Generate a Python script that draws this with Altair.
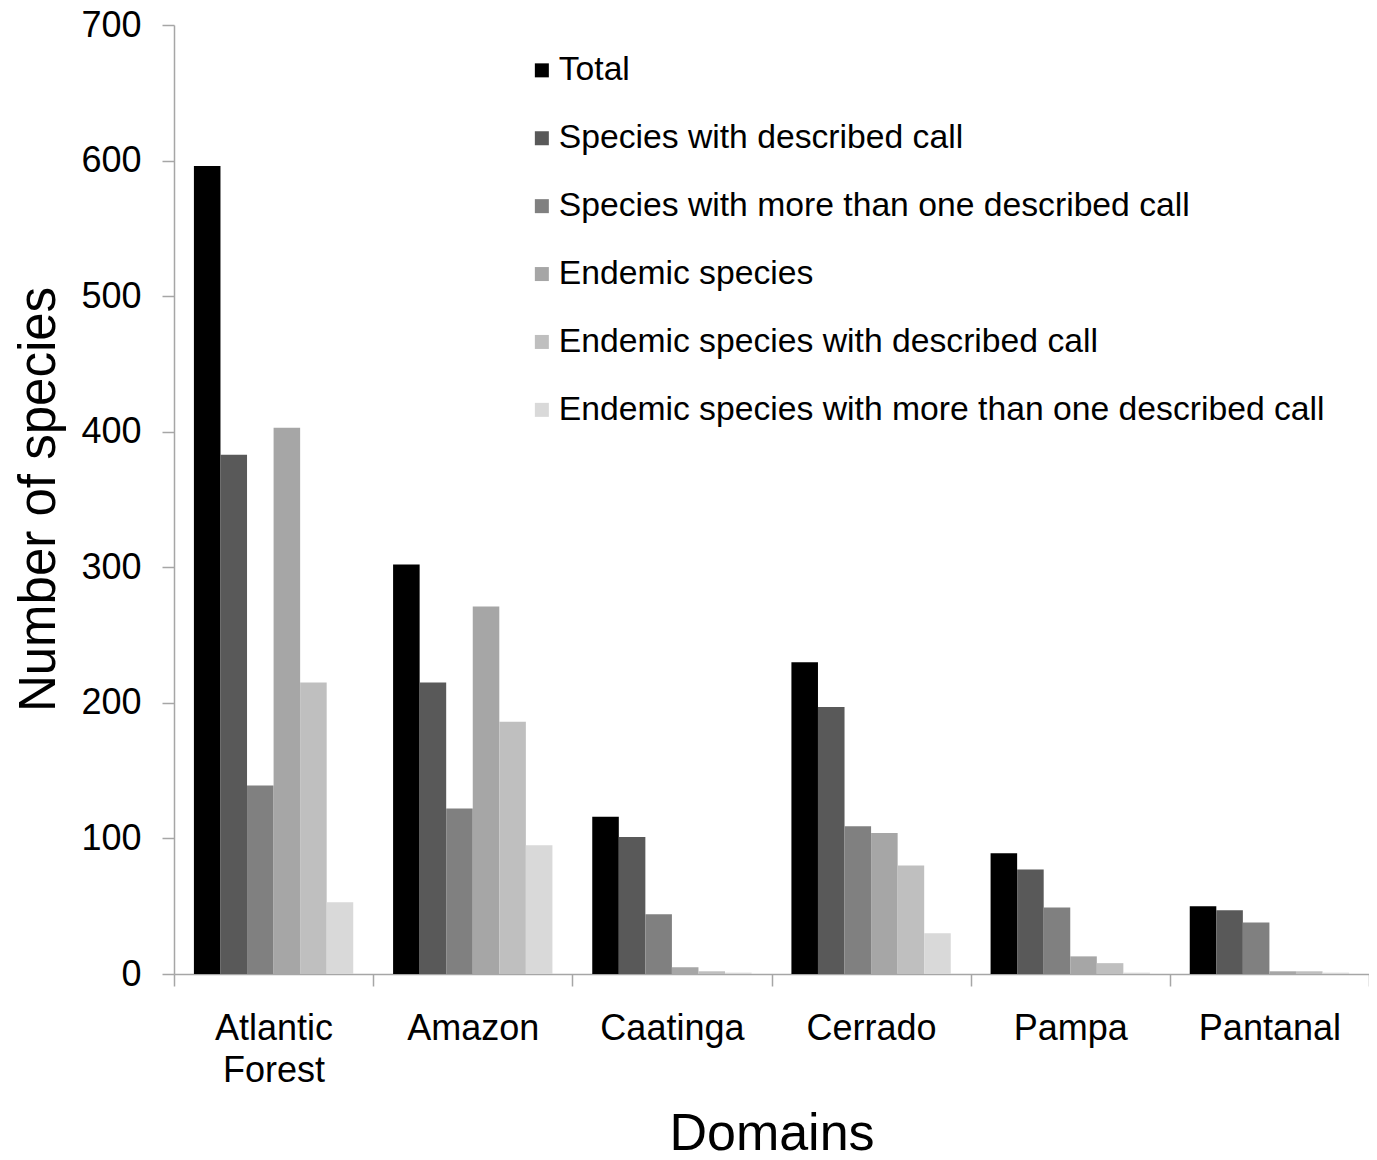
import altair as alt
import pandas as pd

domains = ["Atlantic Forest", "Amazon", "Caatinga", "Cerrado", "Pampa", "Pantanal"]
series = [
    "Total",
    "Species with described call",
    "Species with more than one described call",
    "Endemic species",
    "Endemic species with described call",
    "Endemic species with more than one described call",
]
total = [596, 302, 116, 230, 89, 50]
described = [383, 215, 101, 197, 77, 47]
more_than_one = [139, 122, 44, 109, 49, 38]
endemic = [403, 271, 5, 104, 13, 2]
endemic_described = [215, 186, 2, 80, 8, 2]
endemic_more = [53, 95, 1, 30, 1, 1]
colors = ["#000000", "#595959", "#808080", "#a6a6a6", "#bfbfbf", "#d9d9d9"]

values = [total, described, more_than_one, endemic, endemic_described, endemic_more]
rows = []
for s, vals in zip(series, values):
    for d, v in zip(domains, vals):
        rows.append({"domain": d, "series": s, "value": v})
df = pd.DataFrame(rows)

FONT = "Liberation Sans"

chart = (
    alt.Chart(df)
    .mark_bar()
    .encode(
        x=alt.X(
            "domain:N",
            sort=domains,
            scale=alt.Scale(paddingInner=0, paddingOuter=0),
            axis=alt.Axis(
                title="Domains",
                labelAngle=0,
                labelFont=FONT,
                labelFontSize=36,
                labelColor="#000000",
                labelPadding=25.5,
                labelLineHeight=42,
                labelExpr="datum.label == 'Atlantic Forest' ? ['Atlantic', 'Forest'] : datum.label",
                tickBand="extent",
                tickSize=12,
                tickColor="#a6a6a6",
                tickWidth=1.5,
                domainColor="#a6a6a6",
                domainWidth=1.5,
                titleFont=FONT,
                titleFontSize=52,
                titleFontWeight="normal",
                titleColor="#000000",
                titleBaseline="alphabetic",
                titleY=175,
            ),
        ),
        xOffset=alt.XOffset(
            "series:N",
            sort=series,
            scale=alt.Scale(paddingInner=0, paddingOuter=0.75),
        ),
        y=alt.Y(
            "value:Q",
            scale=alt.Scale(domain=[0, 700], nice=False),
            axis=alt.Axis(
                title="Number of species",
                values=[0, 100, 200, 300, 400, 500, 600, 700],
                grid=False,
                labelFont=FONT,
                labelFontSize=36,
                labelColor="#000000",
                labelPadding=21,
                tickSize=12,
                tickColor="#a6a6a6",
                tickWidth=1.5,
                domainColor="#a6a6a6",
                domainWidth=1.5,
                titleFont=FONT,
                titleFontSize=51,
                titleFontWeight="normal",
                titleColor="#000000",
                titleBaseline="alphabetic",
                titleX=-120,
                titleY=474,
            ),
        ),
        color=alt.Color(
            "series:N",
            sort=series,
            scale=alt.Scale(domain=series, range=colors),
            legend=alt.Legend(
                title=None,
                orient="none",
                legendX=351,
                legendY=28.5,
                padding=0,
                symbolType="square",
                symbolSize=196,
                symbolStrokeWidth=0,
                labelFont=FONT,
                labelFontSize=33.7,
                labelColor="#000000",
                labelOffset=0,
                rowPadding=32.9,
                labelLimit=1000,
            ),
        ),
    )
    .properties(
        width=1195,
        height=949,
        autosize=alt.AutoSizeParams(type="none"),
        padding={"left": 166, "top": 17, "right": 0, "bottom": 178},
        background="#ffffff",
    )
    .configure_view(strokeWidth=0, stroke="transparent")
)

chart.save("out.html", embed_options={"renderer": "svg", "actions": False})
